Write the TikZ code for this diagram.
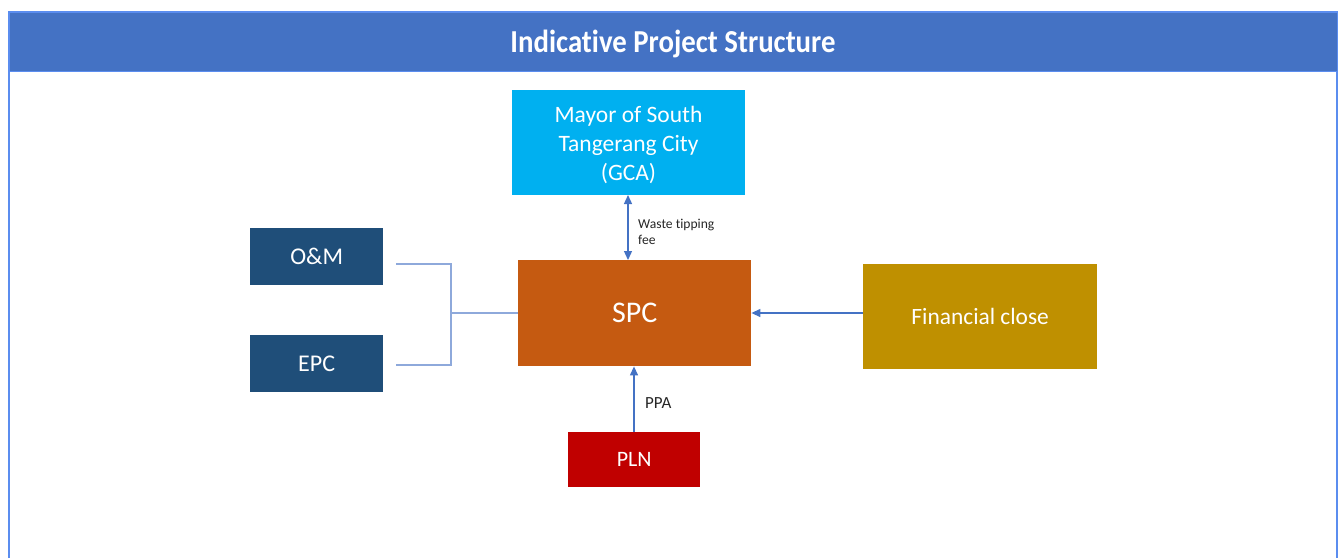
\documentclass[tikz,border=0pt]{standalone}
\usepackage{fontspec}
\setmainfont[Ligatures={NoCommon}]{Carlito}
\newfontfamily\titlefont[FakeStretch=0.9,Ligatures={NoCommon}]{Carlito}
\usetikzlibrary{arrows.meta}
\definecolor{titleblue}{HTML}{4472C4}
\definecolor{frameblue}{HTML}{5B8DEF}
\definecolor{mayorc}{HTML}{00B0F0}
\definecolor{spcc}{HTML}{C55A11}
\definecolor{navyc}{HTML}{1F4E79}
\definecolor{finc}{HTML}{BF9000}
\definecolor{plnc}{HTML}{C00000}
\definecolor{arrowc}{HTML}{4472C4}
\definecolor{bracketc}{HTML}{8EA9DB}
\begin{document}
\begin{tikzpicture}[x=1pt,y=-1pt,
  box/.style={draw=none,text=white,inner sep=0pt,align=center,anchor=north west},
  conn/.style={draw=arrowc,line width=1.3pt},
  brk/.style={draw=bracketc,line width=1.3pt},
  tip/.style={-{Triangle[length=9pt,width=8pt]}},
  dtip/.style={{Triangle[length=9pt,width=8pt]}-{Triangle[length=9pt,width=8pt]}},
  lbl/.style={text=black!85,inner sep=0pt,anchor=west,align=left}]
\useasboundingbox (0,0) rectangle (1341,558);
% frame
\draw[frameblue,line width=2pt] (9,558) -- (9,12) -- (1337,12) -- (1337,558);
\node[box,fill=titleblue,draw=frameblue,line width=1pt,minimum width=1328pt,minimum height=59pt] (title) at (9,12) {};
\node[text=white,font=\titlefont\bfseries\fontsize{32}{34}\selectfont] (ttext) at (673,43.5) {Indicative Project Structure};
% boxes
\node[box,fill=mayorc,minimum width=233pt,minimum height=105pt,text depth=0pt,font=\fontsize{23.5}{29}\selectfont] (mayor) at (512,90) {};
\node[text=white,inner sep=0pt,align=center,font=\fontsize{23.5}{29}\selectfont] (mayortext) at (628.5,144.5) {Mayor of South\\Tangerang City\\(GCA)};
\node[box,fill=spcc,minimum width=233pt,minimum height=106pt,font=\fontsize{30}{32}\selectfont] (spc) at (518,260) {SPC};
\node[box,fill=navyc,minimum width=133pt,minimum height=57pt,font=\fontsize{24}{26}\selectfont] (om) at (250,228) {O\&M};
\node[box,fill=navyc,minimum width=133pt,minimum height=57pt,font=\fontsize{24}{26}\selectfont] (epc) at (250,335) {EPC};
\node[box,fill=finc,minimum width=234pt,minimum height=105pt,font=\fontsize{23.4}{26}\selectfont] (fin) at (863,264) {Financial close};
\node[box,fill=plnc,minimum width=132pt,minimum height=55pt,font=\fontsize{22}{26}\selectfont] (pln) at (568,432) {PLN};
% coordinates
\coordinate (omend) at (396,264);
\coordinate (epcend) at (396,365);
\coordinate (bt) at (451,264);
\coordinate (bb) at (451,365);
\coordinate (bm) at (451,313);
% connectors
\draw[conn,dtip] (628,195) -- (628,260);
\node[lbl,font=\fontsize{13.6}{16}\selectfont] (wlbl) at (638,232) {Waste tipping\\fee};
\draw[brk] (omend) -- (bt) -- (bb) -- (epcend);
\draw[brk] (bm) -- (spc.west |- bm);
\draw[conn,tip] (fin.west |- 0,313) -- (spc.east |- 0,313);
\draw[conn,tip] (pln.north -| 634,0) -- (spc.south -| 634,0);
\node[lbl,font=\fontsize{17}{20}\selectfont] (ppa) at (645,403) {PPA};
\end{tikzpicture}
\end{document}
